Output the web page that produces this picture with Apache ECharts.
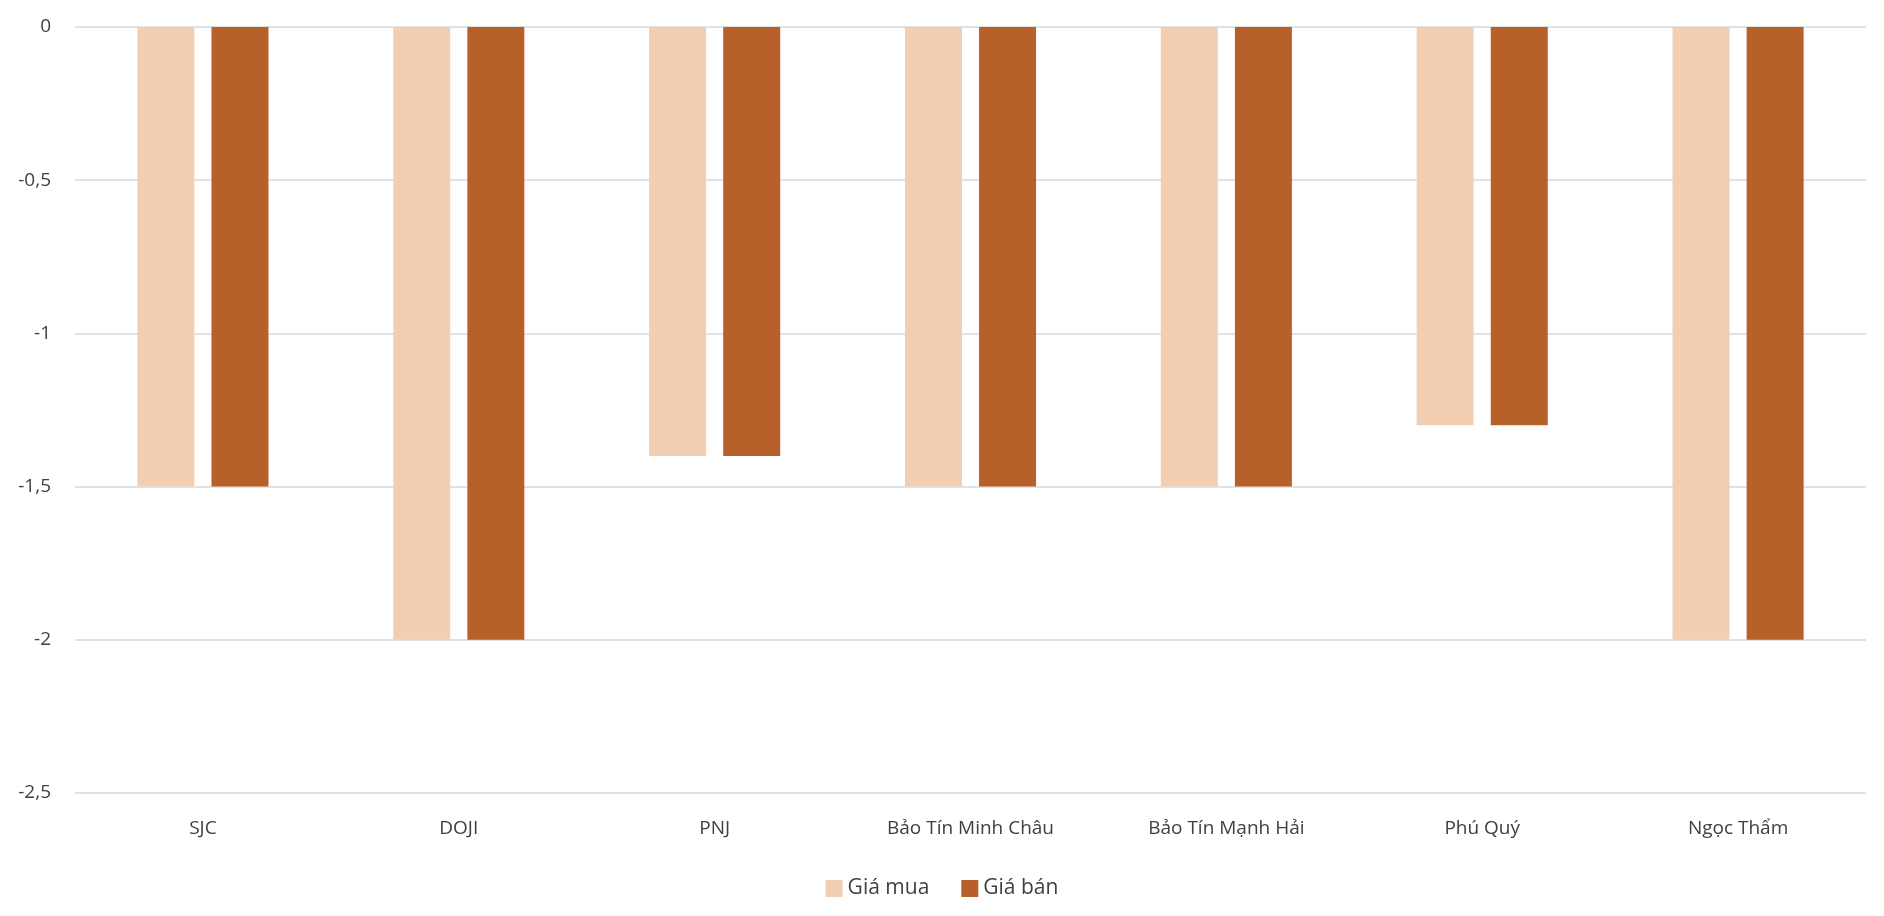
<!DOCTYPE html>
<html><head><meta charset="utf-8">
<script src="https://cdn.jsdelivr.net/npm/echarts@6/dist/echarts.min.js"></script>
<style>html,body{margin:0;padding:0;background:#fff}#c{width:1884px;height:916px}</style>
</head><body><div id="c"></div>
<script>
const categories = ["SJC","DOJI","PNJ","Bảo Tín Minh Châu","Bảo Tín Mạnh Hải","Phú Quý","Ngọc Thẩm"];
const giaMua = [-1.5,-2,-1.4,-1.5,-1.5,-1.3,-2];
const giaBan = [-1.5,-2,-1.4,-1.5,-1.5,-1.3,-2];
const chart = echarts.init(document.getElementById('c'));
const font = "'Open Sans', 'Noto Sans', sans-serif";
chart.setOption({
  animation:false,
  textStyle:{fontFamily:font},
  grid:{left:75,right:18,top:27,bottom:123,containLabel:false},
  legend:{bottom:12,itemWidth:17,itemHeight:17,itemGap:32,icon:'rect',
    textStyle:{fontSize:21,color:'#404040',fontFamily:font},data:['Giá mua','Giá bán']},
  xAxis:{type:'category',data:categories,position:'bottom',
    axisLine:{show:false,onZero:false},axisTick:{show:false},
    axisLabel:{fontSize:19,color:'#404040',margin:26,fontFamily:font}},
  yAxis:{type:'value',min:-2.5,max:0,interval:0.5,
    axisLabel:{fontSize:19,color:'#404040',margin:24,fontFamily:font,formatter:v=>String(v).replace('.',',')},
    splitLine:{lineStyle:{color:'#d9d9d9',width:1.5}}},
  series:[
    {name:'Giá mua',type:'bar',data:giaMua,barWidth:57,barGap:'30%',itemStyle:{color:'#F2CEB2'}},
    {name:'Giá bán',type:'bar',data:giaBan,barWidth:57,itemStyle:{color:'#B8602A'}}
  ]
});
</script></body></html>
